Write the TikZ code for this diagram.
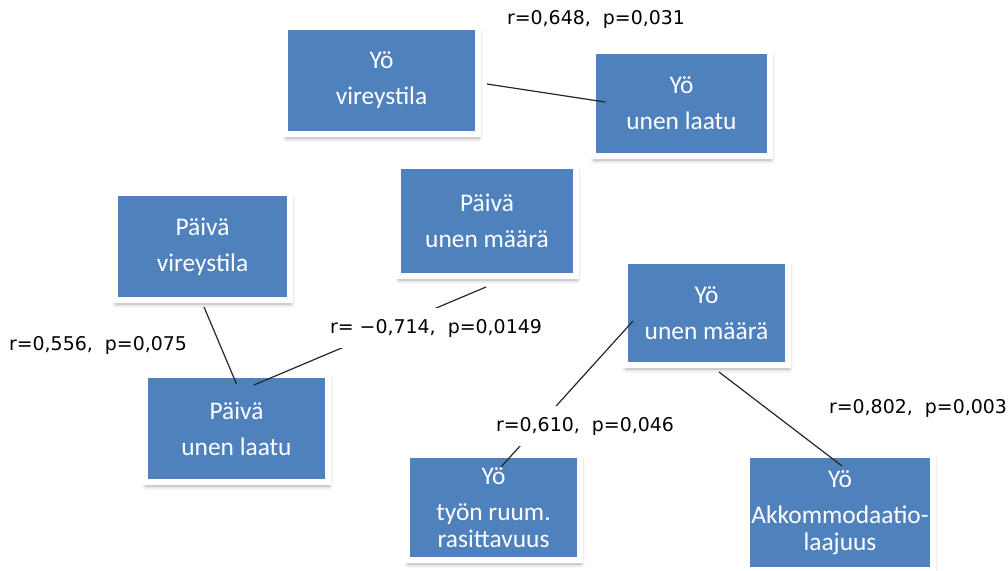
\documentclass[tikz,border=0pt]{standalone}
\usepackage{fontspec}
\setmainfont{Carlito}
\newfontfamily\corrfont{DejaVu Sans}
\usetikzlibrary{shadows.blur}
\definecolor{boxblue}{RGB}{79,129,189}
\tikzstyle{squared} = [rectangle, fill=boxblue, draw=white, line width=6bp, outer sep=0pt, inner sep=0pt, text=white, align=center, font=\fontsize{25.5}{27}\selectfont, blur shadow={shadow xshift=1bp, shadow yshift=-4bp, shadow blur radius=4bp, shadow opacity=35}]
\tikzstyle{connect} = [line width=1.2bp, black!85]
\tikzstyle{corr} = [fill=white, inner xsep=4bp, inner ysep=11bp, font=\corrfont\fontsize{19}{22}\selectfont]

\begin{document}
\begin{tikzpicture}[x=1bp, y=-1bp]
		\useasboundingbox (0,0) rectangle (1008,571);
		% boxes
		\node (yoVire) [squared, minimum width=193bp, minimum height=107bp] at (381.5,80.5) {Yö\\[9bp]vireystila};
		\node (yoLaatu) [squared, minimum width=177bp, minimum height=105bp] at (681.5,103.5) {Yö\\[9bp]unen laatu};
		\node (paivaVire) [squared, minimum width=175bp, minimum height=107bp] at (202.5,246.5) {Päivä\\[9bp]vireystila};
		\node (paivaMaara) [squared, minimum width=178bp, minimum height=110bp] at (487,221) {Päivä\\[9bp]unen määrä};
		\node (paivaLaatu) [squared, minimum width=183bp, minimum height=107bp] at (236.5,428.5) {Päivä\\[9bp]unen laatu};
		\node (yoMaara) [squared, minimum width=163bp, minimum height=104bp] at (706.5,313) {Yö\\[9bp]unen määrä};
		\node (yoTyo) [squared, minimum width=173bp, minimum height=105bp] at (493.5,507.5) {Yö\\[9bp]työn ruum.\\rasittavuus};
		\node (yoAkko) [squared, minimum width=186bp, minimum height=115bp] at (840,512.5) {Yö\\[9bp]Akkommodaatio-\\laajuus};

		% connectors
		\draw [connect] ([xshift=9bp,yshift=-3.5bp]yoVire.east) -- ([xshift=12bp,yshift=1.5bp]yoLaatu.west);
		\draw [connect] ([xshift=1.5bp,yshift=-7bp]paivaVire.south) -- ([yshift=-9bp]paivaLaatu.north);
		\draw [connect] ([xshift=-1bp,yshift=-11bp]paivaMaara.south) -- ([xshift=17.5bp,yshift=-10bp]paivaLaatu.north);
		\draw [connect] ([xshift=8bp,yshift=-8bp]yoMaara.west) -- ([xshift=7.5bp,yshift=-12bp]yoTyo.north);
		\draw [connect] ([xshift=12.5bp,yshift=-7bp]yoMaara.south) -- ([xshift=2bp,yshift=-11bp]yoAkko.north);

		% correlations
		\node (rYoLaatu) [corr] at (596,19) {r=0,648,\ \ p=0,031};
		\node (rPaivaVire) [corr] at (98,345) {r=0,556,\ \ p=0,075};
		\node (rPaivaMaara) [corr] at (436,328) {r=\ −0,714,\ \ p=0,0149};
		\node (rYoTyo) [corr] at (585,426) {r=0,610,\ \ p=0,046};
		\node (rYoAkko) [corr] at (918,408) {r=0,802,\ \ p=0,003};
\end{tikzpicture}
\end{document}
